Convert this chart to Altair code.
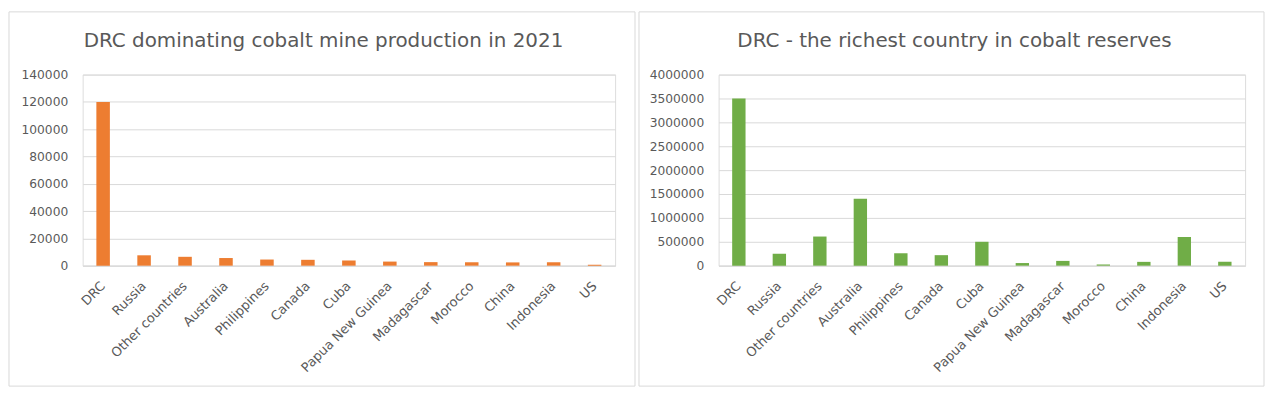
import altair as alt
import pandas as pd

countries = ["DRC", "Russia", "Other countries", "Australia", "Philippines", "Canada",
             "Cuba", "Papua New Guinea", "Madagascar", "Morocco", "China", "Indonesia", "US"]
production = [120000, 7600, 6500, 5600, 4500, 4300, 3800, 3000, 2600, 2500, 2400, 2500, 650]
reserves = [3500000, 250000, 610000, 1400000, 260000, 220000, 500000, 55000, 100000, 25000,
            80000, 600000, 80000]
prod_ticks = list(range(0, 140001, 20000))
res_ticks = list(range(0, 4000001, 500000))

title_left = "DRC dominating cobalt mine production in 2021"
title_right = "DRC - the richest country in cobalt reserves"

FONT = "DejaVu Sans"
TXT = "#595959"
GRID = "#D9D9D9"


def panel(values, ticks, color, title, width, left_off, right_off, title_x):
    df = pd.DataFrame({"country": countries, "value": values})
    bars = alt.Chart(df).mark_bar(color=color).encode(
        x=alt.X("country:N", sort=countries, title=None,
                scale=alt.Scale(paddingInner=0.67, paddingOuter=0.335),
                axis=alt.Axis(labelAngle=-45, labelAlign="right", labelBaseline="middle",
                              labelPadding=18, ticks=False, domainColor=GRID,
                              labelColor=TXT, labelFont=FONT, labelFontSize=13)),
        y=alt.Y("value:Q", title=None,
                scale=alt.Scale(domain=[ticks[0], ticks[-1]], nice=False),
                axis=alt.Axis(values=ticks, format="d", ticks=False, domain=False,
                              gridColor=GRID, labelColor=TXT, labelFont=FONT,
                              labelFontSize=12.3, labelPadding=15)),
    )
    border = alt.Chart(pd.DataFrame({"a": [0]})).mark_rect(
        fill="transparent", stroke=GRID, strokeWidth=1
    ).encode(x=alt.value(left_off), x2=alt.value(right_off),
             y=alt.value(-63), y2=alt.value(313))
    ttl = alt.Chart(pd.DataFrame({"t": [title]})).mark_text(
        align="center", baseline="alphabetic", font=FONT, fontSize=20, color=TXT
    ).encode(text="t:N", x=alt.value(title_x), y=alt.value(-28))
    return alt.layer(border, bars, ttl).properties(width=width, height=192)


left = panel(production, prod_ticks, "#ED7D31", title_left, 535, -74, 555, 242)
right = panel(reserves, res_ticks, "#70AD47", title_right, 529, -80, 548, 237)

chart = alt.hconcat(left, right, spacing=2).properties(
    padding={"left": 0, "top": 2, "right": 0, "bottom": 0}
).configure_view(stroke=None).configure(background="white")

chart.save("out.html", embed_options={"renderer": "svg", "actions": False})
